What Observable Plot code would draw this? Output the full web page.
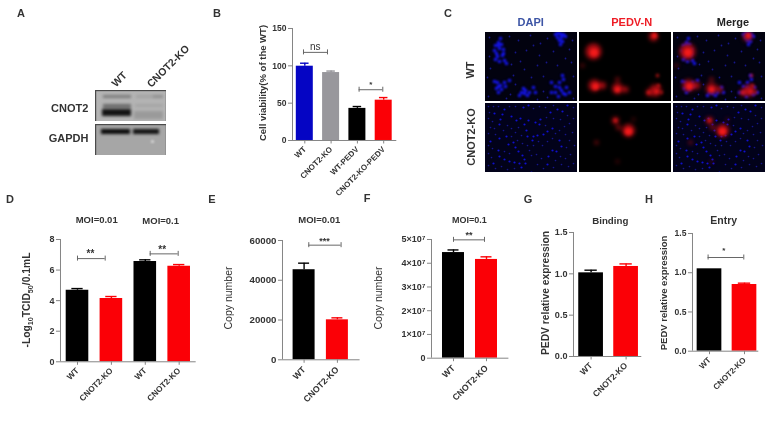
<!DOCTYPE html>
<html><head><meta charset="utf-8">
<script src="https://cdn.jsdelivr.net/npm/d3@7"></script>
<script src="https://cdn.jsdelivr.net/npm/@observablehq/plot@0.6"></script>
<style>
html,body{margin:0;padding:0;background:#fff;}
#fig{position:relative;width:774px;height:421px;overflow:hidden;font-family:"Liberation Sans",Arial,sans-serif;filter:blur(0.45px);}
#fig svg{position:absolute;overflow:visible;background:transparent;}
.lab{position:absolute;white-space:nowrap;line-height:1;color:#333;}
.lab sub{font-size:70%;line-height:0;}
</style></head><body><div id="fig"></div>
<script>
// ---------- bar chart data ----------
const bCategories = ["WT","CNOT2-KO","WT-PEDV","CNOT2-KO-PEDV"];
const bValues = [99.5,91,43,54];
const bErrorTops = [103.5,93,45.5,57.5];

const dCategories = ["WT","CNOT2-KO","WT","CNOT2-KO"];
const dValues = [4.68,4.14,6.56,6.25];
const dErrorTops = [4.79,4.27,6.67,6.36];

const eCategories = ["WT","CNOT2-KO"];
const eValues = [45300,20100];
const eErrorTops = [48600,21100];

const fCategories = ["WT","CNOT2-KO"];
const fValues = [4.45e7,4.16e7];
const fErrorTops = [4.56e7,4.27e7];

const gCategories = ["WT","CNOT2-KO"];
const gValues = [1.012,1.089];
const gErrorTops = [1.044,1.12];

const hCategories = ["WT","CNOT2-KO"];
const hValues = [1.05,0.85];
const hErrorTops = [1.05,0.867];

const bTicks = [0,50,100,150];
const dTicks = [0,2,4,6,8];
const eTicks = [0,20000,40000,60000];
const fTicks = [0,1e7,2e7,3e7,4e7,5e7];
const fTickLabels = ["0","1×10⁷","2×10⁷","3×10⁷","4×10⁷","5×10⁷"];
const gTicks = [0,0.5,1,1.5];

// ---------- photographic panels, in image units ----------
const dapiWTBright = [[10,13],[13,10],[16,12],[9,18],[18,17],[12,24],[17,23],[10,27],[14,29],[19,28],[21,31],[14,16],[11,21],[15,6],[13,13],[18,21],
 [70,2],[74,1],[78,2],[72,5],[76,5],[80,4],[74,8],[77,9],[75,12],[72,1],[76,2],
 [12,50],[15,53],[19,50],[24,48],[11,56],[16,57],[13,60],[20,54],[9,49],[13,54],
 [36,60],[40,58],[44,60],[38,56],[48,55],[50,60],[42,63],[34,63],[39,61],
 [66,50],[70,54],[74,50],[78,47],[81,55],[76,58],[70,60],[73,64],[80,62],[84,60],[66,60],[77,43],[74,55],[78,61]];
const dapiWTDim = [[4,5],[24,4],[33,8],[45,3],[55,11],[62,6],[87,8],[84,17],[68,19],[54,23],[41,18],[30,20],[26,32],[5,36],[2,45],[28,43],[39,37],[52,33],[61,30],[72,33],[86,30],[3,64],[25,62],[30,52],[58,44],[58,59],[88,44],[46,45],[62,65],[21,66],[4,24],[35,29],[80,26],[48,13],[88,66],[52,67]];
const dapiKOBright = [[19,6],[17,11],[15,16],[14,21],[9,10],[26,13],[31,17],[35,15],[39,21],[41,27],[42,33],[43,17],[50,19],[55,16],[54,21],[65,9],[72,6],[77,8],[82,2],[38,4],[43,2],[58,31],[52,32],[48,33],[47,37],[62,28],[67,25],[74,37],[76,43],[71,48],[67,47],[63,53],[62,61],[30,44],[33,48],[37,52],[39,56],[34,60],[29,59],[24,58],[19,56],[14,53],[13,47],[23,41],[28,39],[40,60],[36,64],[46,69],[14,35],[5,38],[8,60],[21,33]];
const dapiKODim = [[3,3],[8,3],[13,3],[24,3],[30,3],[48,5],[54,3],[60,4],[68,2],[88,4],[4,9],[3,15],[7,18],[5,24],[9,25],[3,30],[10,31],[18,27],[22,22],[26,25],[30,29],[33,24],[36,32],[26,33],[32,37],[37,40],[42,42],[48,42],[53,38],[57,42],[62,38],[67,35],[70,30],[74,27],[79,23],[84,20],[88,15],[82,12],[75,16],[68,15],[61,14],[60,22],[80,31],[87,29],[84,37],[89,42],[81,44],[85,51],[80,55],[75,53],[70,57],[76,61],[83,63],[88,60],[68,64],[58,65],[52,61],[56,55],[51,51],[46,52],[44,47],[24,50],[19,48],[7,45],[3,42],[3,50],[6,54],[3,62],[10,65],[16,63],[22,66],[29,65]];
const pedvWTHalo = [[14,19,8],[74,4,4.5],[15,53,6],[23,53,3.5],[38,56,5.5],[46,57,3],[76,58,6],[70,60,3.5],[3,33,1.6],[38,47,2]];
const pedvWTCore = [[14.5,20,4],[75,3,2.5],[16,54,3.2],[38,57,2.6],[77,59,1.8],[69,60,1.5],[78,43,1.5],[79,53,1.5],[82,60,1.3]];
const pedvKOHalo = [[49,27,6.5],[36,17,3.5],[39,24,2.2],[17,39,1.8],[38,58,1.2],[54,16,1.2]];
const pedvKOCore = [[49,28,3.6],[36,17,1.4]];

// ---------- blot bands, in image units ----------
const blotTopBands = [[8,36,5,8,"#7b7b7b"],[8,36,14,18,"#6b6b6b"],[7,36,19,26,"#141414"],[41,58,5,8,"#a2a2a2"],[58,68,5,8,"#8e8e8e"],[40,68,14,17,"#a4a4a4"],[39,68,21,29,"#9a9a9a"]];
const blotBottomBands = [[6,35,5,10,"#0a0a0a"],[38,64,5,10,"#111111"]];
const blotSpots = [[57,17]];

const blue="#0505c4", grey="#98979c", black="#000000", red="#fb0006";
const axisGrey="#858585", textCol="#333";
const fig=document.getElementById("fig");

function label(html,x,y,o={}){
  const d=document.createElement("div");d.className="lab";d.innerHTML=html;
  d.style.left=x+"px";d.style.top=y+"px";
  d.style.fontSize=(o.size||10)+"px";d.style.fontWeight=o.weight||"bold";
  if(o.color)d.style.color=o.color;
  d.style.transform=`translate(-50%,-50%) rotate(${o.rotate||0}deg)`;
  fig.appendChild(d);
}

function barPanel(c){
  const {cats,vals,tops,colors,ticks,tickLabels,cx0,step,barW,axisX,endX,y0,yTop,yMax,size=9.5,rotFont=size,brackets=[],stars=[]}=c;
  const box={x0:axisX-70,x1:endX+20,y0:yTop-20,y1:y0+70};
  const u=px=>(px-cx0)/step;
  const idx=cats.map((_,i)=>i);
  const hw=barW/step/2, capW=hw*0.5;
  const capH=yMax/(y0-yTop)*2.5;
  const rows=idx.map(i=>({i,v:vals[i],t:tops[i],col:colors[i]}));
  const capped=rows.filter(d=>d.t>d.v);
  const svg=Plot.plot({
    width:box.x1-box.x0,height:box.y1-box.y0,
    marginLeft:axisX-box.x0,marginRight:box.x1-endX,marginTop:yTop-box.y0,marginBottom:box.y1-y0,
    x:{domain:[u(axisX),u(endX)]},y:{domain:[0,yMax]},color:{type:"identity"},
    style:{fontFamily:"Liberation Sans",background:"transparent",overflow:"visible"},
    marks:[
      Plot.rect(rows,{x1:d=>d.i-hw,x2:d=>d.i+hw,y1:0,y2:"v",fill:"col"}),
      Plot.ruleX(capped,{x:"i",y1:"v",y2:"t",stroke:"col",strokeWidth:1.4}),
      Plot.ruleY(capped,{y:"t",x1:d=>d.i-capW,x2:d=>d.i+capW,stroke:"col",strokeWidth:1.4}),
      Plot.ruleX([u(axisX)],{stroke:axisGrey,strokeWidth:1}),
      Plot.ruleY([0],{stroke:axisGrey,strokeWidth:1}),
      Plot.axisY({ticks,tickSize:4,tickPadding:2,stroke:axisGrey,fill:textCol,fontSize:size,fontWeight:"bold",
        tickFormat:tickLabels?(d=>tickLabels[ticks.indexOf(d)]):(c.fmt||(d=>String(d))),label:null}),
      Plot.axisX({ticks:idx,tickSize:3.5,tickPadding:c.rotPad??4,stroke:axisGrey,fill:textCol,fontSize:rotFont,fontWeight:"bold",
        tickRotate:-45,tickFormat:i=>cats[i],label:null}),
      ...brackets.flatMap(b=>[
        Plot.ruleY([b],{y:"y",x1:d=>u(d.a),x2:d=>u(d.b),stroke:"#666",strokeWidth:1}),
        Plot.ruleX([b.a,b.b].map(u),{y1:b.y-capH,y2:b.y+capH,stroke:"#666",strokeWidth:1})
      ]),
      ...stars.map(s=>Plot.text([s],{x:d=>u(d.x),y:"y",text:"t",fontSize:s.size||10,fontWeight:s.weight||"bold",fill:textCol}))
    ]
  });
  svg.style.left=box.x0+"px";svg.style.top=box.y0+"px";
  fig.appendChild(svg);
}

const W=92,H=69;
function photo(left,top,marks,bg="#000"){
  const svg=Plot.plot({width:W,height:H,margin:0,x:{domain:[0,W],axis:null},y:{domain:[0,H],reverse:true,axis:null},r:{type:"identity"},
    style:{background:bg,overflow:"hidden"},marks});
  svg.style.left=left+"px";svg.style.top=top+"px";
  svg.style.overflow="hidden";
  fig.appendChild(svg);
}
const dapi=(bright,dim,r,rd,blur,col="#1414ee")=>[
  Plot.dot(dim,{x:d=>d[0],y:d=>d[1],r:rd,fill:"#16168a",stroke:"none",imageFilter:"blur(0.6px)"}),
  Plot.dot(bright,{x:d=>d[0],y:d=>d[1],r,fill:col,stroke:"none",imageFilter:`blur(${blur}px)`})];
const pedv=(halo,core,blend)=>[
  Plot.dot(halo,{x:d=>d[0],y:d=>d[1],r:d=>d[2],fill:"#a80c12",stroke:"none",imageFilter:"blur(2px)",mixBlendMode:blend}),
  Plot.dot(core,{x:d=>d[0],y:d=>d[1],r:d=>d[2],fill:"#f21a1a",stroke:"none",imageFilter:"blur(1.4px)",mixBlendMode:blend})];

// ---------- Panel letters ----------
[["A",21,13],["B",217,13],["C",448,13],["D",10,199],["E",212,199],["F",367,198],["G",528,199],["H",649,199]]
 .forEach(([t,x,y])=>label(t,x,y,{size:11}));

// ---------- A: western blot ----------
function blot(left,top,w,h,bg,bands,spots){
  const svg=Plot.plot({width:w,height:h,margin:0,x:{domain:[0,w],axis:null},y:{domain:[0,h],reverse:true,axis:null},color:{type:"identity"},
    style:{background:bg,overflow:"hidden"},
    marks:[
      Plot.rect(bands,{x1:d=>d[0],x2:d=>d[1],y1:d=>d[2],y2:d=>d[3],fill:d=>d[4],imageFilter:"blur(1.4px)"}),
      Plot.dot(spots,{x:d=>d[0],y:d=>d[1],r:1.6,fill:"#d8d8d8",stroke:"none",imageFilter:"blur(0.8px)"}),
      Plot.frame({stroke:"#4a4a4a",strokeWidth:1.4})
    ]});
  svg.style.left=left+"px";svg.style.top=top+"px";svg.style.overflow="hidden";
  fig.appendChild(svg);
}
blot(94.5,89.7,71,31.3,"#b4b4b4",blotTopBands,[]);
blot(94.5,124,71,31.3,"#a6a6a6",blotBottomBands,blotSpots);
label("WT",119,79,{size:10.5,rotate:-45});
label("CNOT2-KO",168,66,{size:10.5,rotate:-45});
label("CNOT2",69.7,108,{size:11});
label("GAPDH",68.5,138,{size:11});

// ---------- B ----------
barPanel({cats:bCategories,vals:bValues,tops:bErrorTops,colors:[blue,grey,black,red],ticks:bTicks,
  cx0:304,step:26.3,barW:17,axisX:291.7,endX:396,y0:139.7,yTop:27.7,yMax:150,size:8.5,rotFont:8,
  brackets:[{a:302.7,b:326.7,y:118},{a:358.3,b:382,y:68}],
  stars:[{x:314.5,y:125,t:"ns",size:10,weight:"normal"},{x:370,y:75,t:"*",size:8}]});
label("Cell viability(% of the WT)",263,83,{size:9.5,rotate:-90});

// ---------- C: immunofluorescence ----------
label("DAPI",530.7,22,{size:11,color:"#3d55a5"});
label("PEDV-N",631.7,22,{size:11,color:"#ee1c25"});
label("Merge",733,22,{size:11,color:"#222"});
label("WT",470,70,{size:11,rotate:-90});
label("CNOT2-KO",470.5,136.7,{size:11,rotate:-90});
photo(485,32.3,dapi(dapiWTBright,dapiWTDim,1.8,0.9,1),"#02020f");
photo(579,32.3,pedv(pedvWTHalo,pedvWTCore));
photo(673,32.3,[...dapi(dapiWTBright,dapiWTDim,1.8,0.9,1),...pedv(pedvWTHalo,pedvWTCore,"screen")],"#02020f");
photo(485,103,dapi(dapiKOBright,dapiKODim,1.1,0.85,0.6,"#1010cc"),"#02021a");
photo(579,103,pedv(pedvKOHalo,pedvKOCore));
photo(673,103,[...dapi(dapiKOBright,dapiKODim,1.1,0.85,0.6,"#1010cc"),...pedv(pedvKOHalo,pedvKOCore,"screen")],"#02021a");

// ---------- D ----------
barPanel({cats:dCategories,vals:dValues,tops:dErrorTops,colors:[black,red,black,red],ticks:dTicks,
  cx0:77,step:33.9,barW:22.6,axisX:60,endX:195.7,y0:361,yTop:238.7,yMax:8,size:9,rotFont:8.3,
  brackets:[{a:77,b:104.7,y:6.75},{a:149.7,b:177.7,y:7.06}],
  stars:[{x:90,y:7.05,t:"**"},{x:161.7,y:7.35,t:"**"}]});
label("-Log<sub>10</sub>TCID<sub>50</sub>/0.1mL",27,300,{size:10.3,rotate:-90});
label("MOI=0.01",96.7,220,{size:9.5});
label("MOI=0.1",160.7,221,{size:9.5});

// ---------- E ----------
barPanel({cats:eCategories,vals:eValues,tops:eErrorTops,colors:[black,red],ticks:eTicks,
  cx0:303.3,step:33.3,barW:22,axisX:281.7,endX:359.3,y0:359,yTop:239.7,yMax:60000,size:9.7,rotFont:8.8,rotPad:5,
  brackets:[{a:308,b:340.3,y:57650}],
  stars:[{x:323.7,y:59800,t:"***",size:9}]});
label("Copy number",227.7,298,{size:10.5,weight:"normal",rotate:-90});
label("MOI=0.01",319.3,220,{size:9.5});

// ---------- F ----------
barPanel({cats:fCategories,vals:fValues,tops:fErrorTops,colors:[black,red],ticks:fTicks,tickLabels:fTickLabels,
  cx0:453.3,step:33,barW:22,axisX:431.3,endX:508.7,y0:358,yTop:239.3,yMax:5e7,size:9,rotFont:8.8,rotPad:5,
  brackets:[{a:453.3,b:484.3,y:4.985e7}],
  stars:[{x:468.7,y:5.2e7,t:"**",size:9}]});
label("Copy number",378.3,298,{size:10.5,weight:"normal",rotate:-90});
label("MOI=0.1",469.3,219.7,{size:9});

// ---------- G ----------
barPanel({cats:gCategories,vals:gValues,tops:gErrorTops,colors:[black,red],ticks:gTicks,fmt:d=>d.toFixed(1),
  cx0:590.3,step:35,barW:24.7,axisX:572.7,endX:641,y0:356.3,yTop:232.3,yMax:1.5,size:9.1,rotFont:8.6});
label("PEDV relative expression",546,293,{size:10.3,rotate:-90});
label("Binding",610.3,221,{size:9.7});

// ---------- H ----------
barPanel({cats:hCategories,vals:hValues,tops:hErrorTops,colors:[black,red],ticks:gTicks,fmt:d=>d.toFixed(1),
  cx0:708.7,step:35,barW:24.7,axisX:691.7,endX:758,y0:351,yTop:233.3,yMax:1.5,size:8.6,rotFont:8.1,
  brackets:[{a:707.3,b:743,y:1.194}],
  stars:[{x:723,y:1.28,t:"*",size:8}]});
label("PEDV relative expression",664,293,{size:9.5,rotate:-90});
label("Entry",723.7,219.7,{size:10.5});
</script></body></html>
